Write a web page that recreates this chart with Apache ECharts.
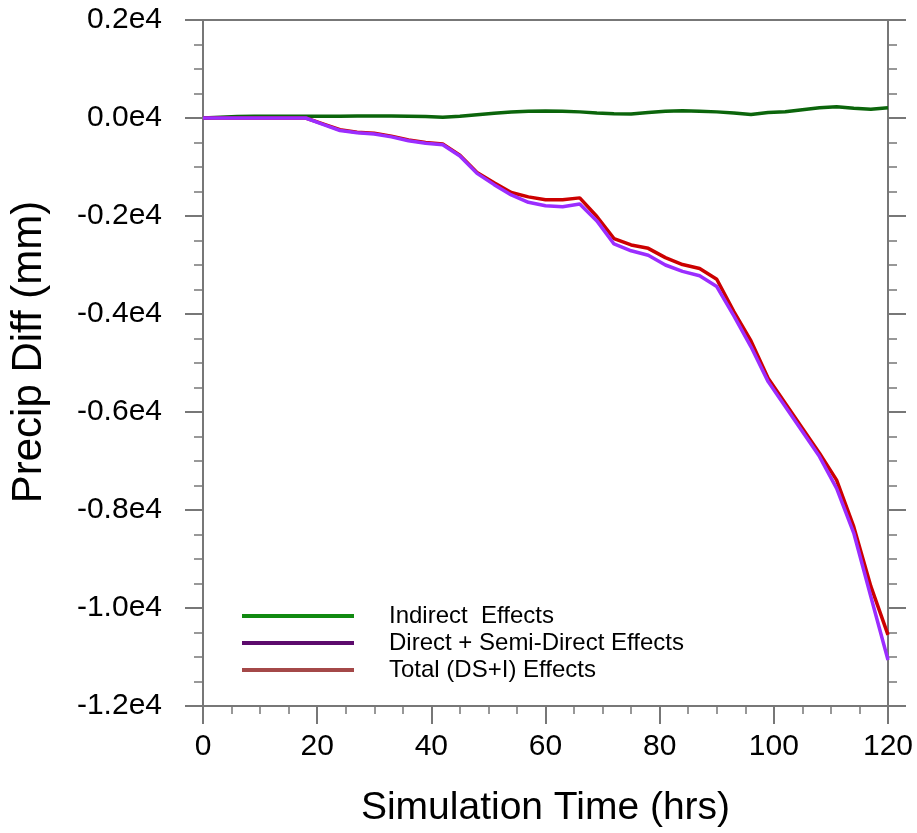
<!DOCTYPE html>
<html>
<head>
<meta charset="utf-8">
<script src="https://cdn.jsdelivr.net/npm/echarts@6/dist/echarts.min.js"></script>
<style>
html,body{margin:0;padding:0;background:#fff;}
#chart{width:917px;height:833px;}
</style>
</head>
<body>
<div id="chart"></div>
<script>
// Simulation time (hrs), every 3 hours
const hours = [0,3,6,9,12,15,18,21,24,27,30,33,36,39,42,45,48,51,54,57,60,63,66,69,72,75,78,81,84,87,90,93,96,99,102,105,108,111,114,117,120];
const indirect = [0,15,30,35,35,35,35,35,38,40,42,40,38,30,15,35,65,95,120,140,145,138,125,100,88,80,112,138,150,140,125,100,70,110,128,170,210,230,198,180,210];
const directSemi = [0,0,0,0,0,0,0,-130,-255,-300,-325,-385,-465,-515,-545,-775,-1130,-1360,-1570,-1720,-1790,-1810,-1755,-2100,-2570,-2710,-2800,-3000,-3130,-3220,-3440,-4040,-4670,-5380,-5890,-6400,-6910,-7560,-8470,-9770,-11060];
const total = [0,0,0,0,0,0,0,-120,-240,-290,-310,-370,-450,-500,-530,-760,-1110,-1320,-1520,-1610,-1670,-1670,-1630,-2010,-2460,-2590,-2660,-2850,-2990,-3070,-3290,-3950,-4550,-5310,-5820,-6330,-6840,-7390,-8340,-9560,-10550];
const seriesNames = ['Indirect  Effects','Direct + Semi-Direct Effects','Total (DS+I) Effects'];
const xTitle = 'Simulation Time (hrs)';
const yTitle = 'Precip Diff (mm)';

const FONT = 'Liberation Sans';
const axisColor = '#777777';
const pair = (ys) => hours.map((h, i) => [h, ys[i]]);
const yFmt = (v) => {
  const s = (Math.abs(v) / 10000).toFixed(1) + 'e4';
  return v < 0 ? '-' + s : s;
};

const chart = echarts.init(document.getElementById('chart'), null, {renderer: 'canvas'});
chart.setOption({
  backgroundColor: '#ffffff',
  animation: false,
  grid: {left: 203, right: 29, top: 20, bottom: 127, containLabel: false, outerBoundsMode: 'none'},
  xAxis: [{
    type: 'value', min: 0, max: 120, interval: 20, position: 'bottom',
    axisLine: {show: true, onZero: false, lineStyle: {color: axisColor, width: 2}},
    axisTick: {show: true, inside: false, length: 18, lineStyle: {color: axisColor, width: 2}},
    minorTick: {show: true, splitNumber: 4, length: 8, lineStyle: {color: axisColor, width: 1.5}},
    splitLine: {show: false},
    axisLabel: {color: '#000', fontFamily: FONT, fontSize: 30, margin: 26},
    name: xTitle, nameLocation: 'middle', nameGap: 83,
    nameTextStyle: {color: '#000', fontFamily: FONT, fontSize: 39}
  }, {
    type: 'value', min: 0, max: 120, interval: 20, position: 'top',
    axisLine: {show: true, onZero: false, lineStyle: {color: axisColor, width: 2}},
    axisTick: {show: false}, axisLabel: {show: false}, splitLine: {show: false}
  }],
  yAxis: [{
    type: 'value', min: -12000, max: 2000, interval: 2000, position: 'left',
    axisLine: {show: true, onZero: false, lineStyle: {color: axisColor, width: 2}},
    axisTick: {show: true, inside: false, length: 18, lineStyle: {color: axisColor, width: 2}},
    minorTick: {show: true, splitNumber: 4, length: 9, lineStyle: {color: axisColor, width: 1.5}},
    splitLine: {show: false},
    axisLabel: {color: '#000', fontFamily: FONT, fontSize: 30, margin: 41, formatter: yFmt},
    name: yTitle, nameLocation: 'middle', nameGap: 153, nameRotate: 90,
    nameTextStyle: {color: '#000', fontFamily: FONT, fontSize: 42, padding: [0, 0, 0, 22]}
  }, {
    type: 'value', min: -12000, max: 2000, interval: 2000, position: 'right',
    axisLine: {show: true, onZero: false, lineStyle: {color: axisColor, width: 2}},
    axisTick: {show: true, inside: false, length: 18, lineStyle: {color: axisColor, width: 2}},
    minorTick: {show: true, splitNumber: 4, length: 9, lineStyle: {color: axisColor, width: 1.5}},
    splitLine: {show: false}, axisLabel: {show: false}
  }],
  legend: {
    orient: 'vertical', left: 237, top: 599,
    icon: 'rect', itemWidth: 112, itemHeight: 4, itemGap: 3,
    textStyle: {color: '#000', fontFamily: FONT, fontSize: 24, padding: [0, 0, 0, 30]},
    data: [
      {name: seriesNames[0], itemStyle: {color: '#118a11'}},
      {name: seriesNames[1], itemStyle: {color: '#5c0a6c'}},
      {name: seriesNames[2], itemStyle: {color: '#a44848'}}
    ]
  },
  series: [
    {name: seriesNames[0], type: 'line', data: pair(indirect), showSymbol: false, symbol: 'none',
     lineStyle: {color: '#0b650b', width: 3.5}, itemStyle: {color: '#0b650b'}, z: 3},
    {name: seriesNames[2], type: 'line', data: pair(total), showSymbol: false, symbol: 'none',
     lineStyle: {color: '#cc0000', width: 3.5}, itemStyle: {color: '#cc0000'}, z: 3},
    {name: seriesNames[1], type: 'line', data: pair(directSemi), showSymbol: false, symbol: 'none',
     lineStyle: {color: '#9b2dff', width: 3.5}, itemStyle: {color: '#9b2dff'}, z: 4}
  ]
});
</script>
</body>
</html>
